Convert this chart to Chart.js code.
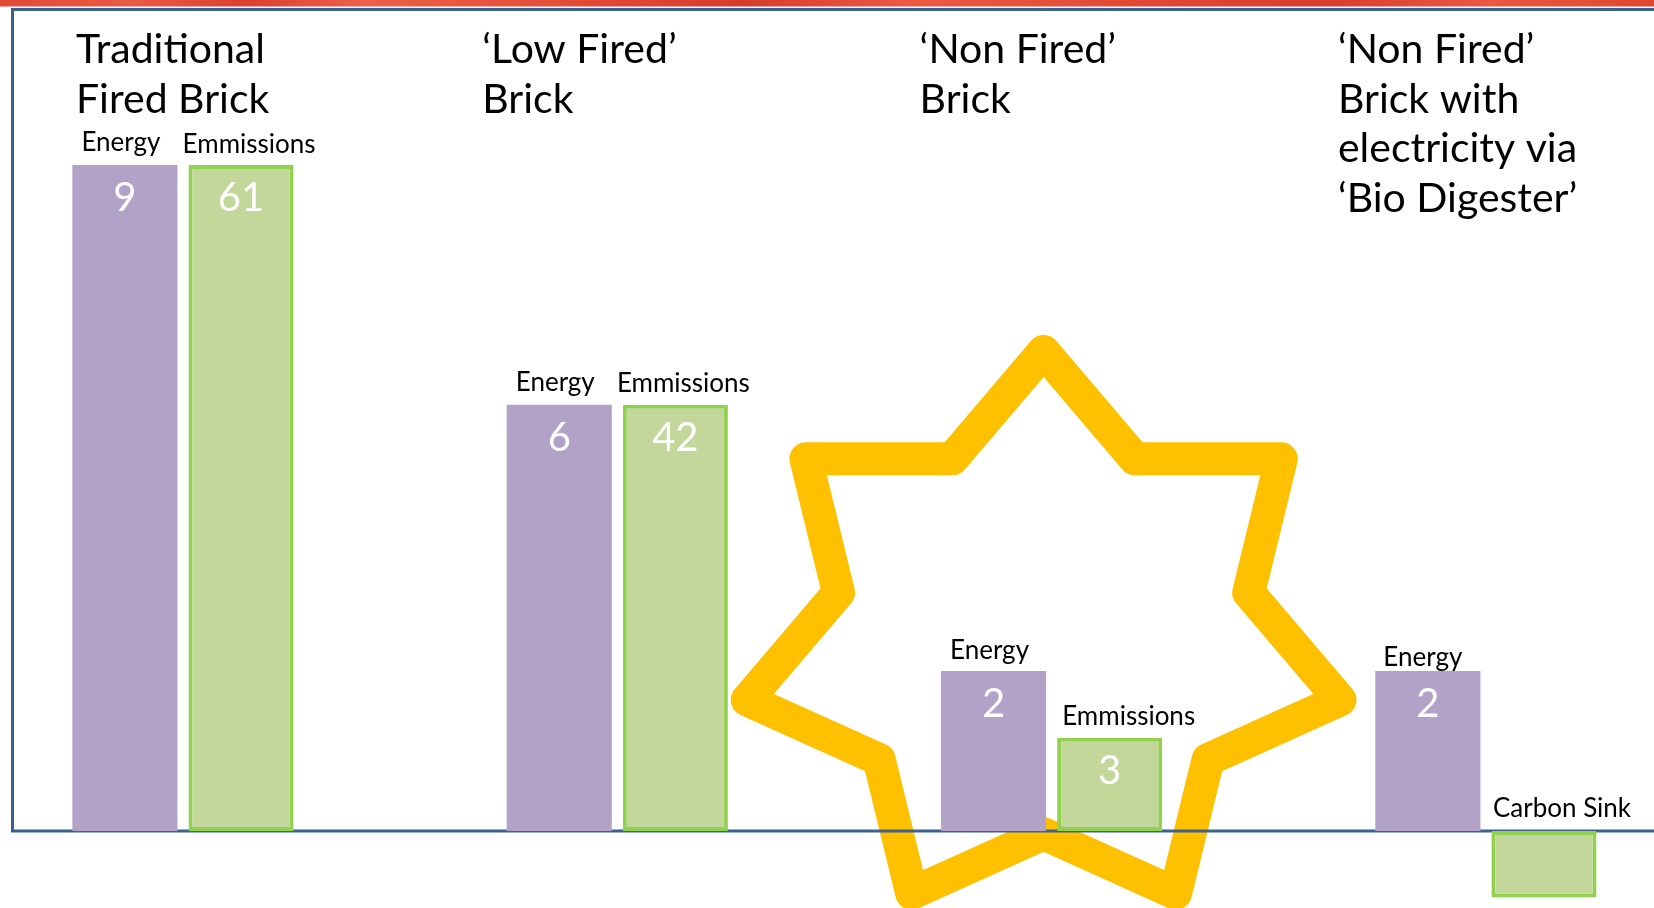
<!DOCTYPE html>
<html>
<head>
<meta charset="utf-8">
<script src="https://cdn.jsdelivr.net/npm/chart.js@4.4.0/dist/chart.umd.min.js"></script>
<style>
  html,body{margin:0;padding:0;background:#fff;overflow:hidden}
  #wrap{width:1654px;height:908px;position:relative}
</style>
</head>
<body>
<div id="wrap"><canvas id="c"></canvas></div>
<script>
/* ===== data ===== */
// group titles (one entry per line)
const titles = [
  ['Traditional', 'Fired Brick'],
  ['\u2018Low Fired\u2019', 'Brick'],
  ['\u2018Non Fired\u2019', 'Brick'],
  ['\u2018Non Fired\u2019', 'Brick with', 'electricity via', '\u2018Bio Digester\u2019']
];
// the slide's bars are drawn to an illustrative height, not to the printed number
const energyHeight   = [100, 64, 24, 24];
const emissionHeight = [100, 64, 14, -10];
// numbers printed inside the bars
const energyValue   = ['9', '6', '2', '2'];
const emissionValue = ['61', '42', '3', ''];
// words printed above the bars
const energyLabel   = ['Energy', 'Energy', 'Energy', 'Energy'];
const emissionLabel = ['Emmissions', 'Emmissions', 'Emmissions', 'Carbon Sink'];

/* ===== look ===== */
const FONT = 'Lato, "Open Sans", sans-serif';
const PURPLE = '#B2A2C7', GREEN = '#C4D79B', GREEN_EDGE = '#92D050';
const FRAME = '#3B6190', GOLD = '#FFC000';
const titleShift = [-107, -135, -132, -148];      // title left edge vs group centre (px)
const labelShift = [[-4, -4, -4, -5], [8, 8, 19, 18]];
const labelLift  = [[23, 22, 21, 14], [21, 21, 21, 22]];
const star = {at: 2, dx: -8, cy: 29.2, rx: 304, ry: 285, inner: 0.692, width: 33};

const deco = {
  id: 'deco',
  beforeDraw(c){
    const ctx = c.ctx, w = c.width;
    const g = ctx.createLinearGradient(0, 0, w, 0);
    [['#E04A36',0],['#EA5A43',.08],['#D9412F',.15],['#EE6048',.22],['#E34B37',.35],
     ['#D53C2C',.45],['#EC5943',.55],['#E24A36',.68],['#D63E2D',.8],['#EB5741',.9],['#E04733',1]]
      .forEach(([col, p]) => g.addColorStop(p, col));
    ctx.save();
    ctx.fillStyle = g; ctx.fillRect(0, 0, w, 6.5);
    ctx.restore();
  },
  beforeDatasetsDraw(c){
    const ctx = c.ctx, xs = c.scales.x, ys = c.scales.y, a = c.chartArea;
    // star
    const cx = xs.getPixelForValue(star.at) + star.dx, cy = ys.getPixelForValue(star.cy);
    ctx.save();
    ctx.beginPath();
    for(let k=0;k<14;k++){
      const ang = -Math.PI/2 + k*Math.PI/7, f = k%2 ? star.inner : 1;
      const px = cx + Math.cos(ang)*star.rx*f, py = cy + Math.sin(ang)*star.ry*f;
      k ? ctx.lineTo(px, py) : ctx.moveTo(px, py);
    }
    ctx.closePath();
    ctx.strokeStyle = GOLD; ctx.lineWidth = star.width; ctx.lineJoin = 'round';
    ctx.stroke();
    // frame: top, left, base line
    const y0 = ys.getPixelForValue(0);
    ctx.beginPath();
    ctx.moveTo(a.right, a.top + 1.5);
    ctx.lineTo(a.left + 1.5, a.top + 1.5);
    ctx.lineTo(a.left + 1.5, y0);
    ctx.lineTo(a.right, y0);
    ctx.strokeStyle = FRAME; ctx.lineWidth = 3; ctx.lineJoin = 'miter';
    ctx.stroke();
    ctx.restore();
  },
  afterDatasetsDraw(c){
    const ctx = c.ctx, xs = c.scales.x;
    ctx.save();
    // group titles
    ctx.fillStyle = '#000'; ctx.textBaseline = 'middle'; ctx.textAlign = 'left';
    ctx.font = '41px ' + FONT;
    titles.forEach((lines, i) => {
      const x = xs.getPixelForValue(i) + titleShift[i];
      lines.forEach((t, k) => ctx.fillText(t, x, 50 + k*49.5));
    });
    // labels above and numbers inside bars
    ctx.textAlign = 'center';
    [[energyLabel, energyValue], [emissionLabel, emissionValue]].forEach(([lab, val], d) => {
      c.getDatasetMeta(d).data.forEach((bar, i) => {
        const top = Math.min(bar.y, bar.base);
        ctx.fillStyle = '#000'; ctx.font = '26px ' + FONT;
        ctx.fillText(lab[i], bar.x + labelShift[d][i], top - labelLift[d][i]);
        if(val[i]){
          ctx.fillStyle = '#fff'; ctx.font = '40px ' + FONT;
          ctx.fillText(val[i], bar.x, top + 33);
        }
      });
    });
    ctx.restore();
  }
};

const mk = (h, color, edge) => ({
  data: h.map((v, i) => ({x: i, y: v})),
  backgroundColor: color,
  borderColor: edge || color,
  borderWidth: edge ? 4 : 0,
  borderSkipped: false,
  barPercentage: 0.905,
  categoryPercentage: 0.683
});

new Chart(document.getElementById('c'), {
  type: 'bar',
  data: {datasets: [mk(energyHeight, PURPLE), mk(emissionHeight, GREEN, GREEN_EDGE)]},
  options: {
    responsive: true, maintainAspectRatio: false, animation: false,
    layout: {padding: {left: 11, right: 0, top: 8, bottom: 0}},
    plugins: {legend: {display: false}, tooltip: {enabled: false}},
    scales: {
      x: {type: 'linear', display: false, bounds: 'data', offset: false,
          min: -0.396, max: 3.387, ticks: {stepSize: 1, includeBounds: false}},
      y: {display: false, bounds: 'data', min: -11.58, max: 123.6}
    }
  },
  plugins: [deco]
});
</script>
</body>
</html>
